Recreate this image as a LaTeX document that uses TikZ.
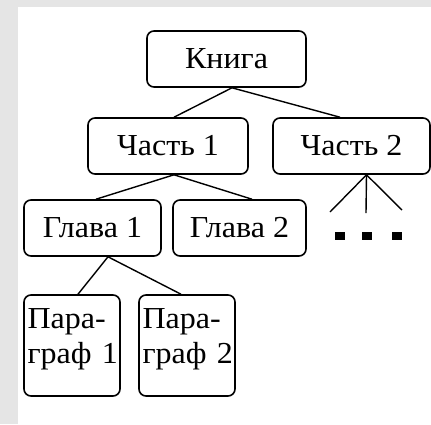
\documentclass[tikz,border=0pt]{standalone}
\usepackage{fontspec}
\setmainfont[FakeStretch=1.05]{Liberation Serif}
\begin{document}
\begin{tikzpicture}[x=1pt,y=-1pt,
  box/.style={draw, line width=1.6pt, rounded corners=7pt, inner sep=0pt,
    font=\fontsize{30.5}{35}\selectfont},
  parbox/.style={box, text width=89pt, align=left, minimum width=96pt, minimum height=101pt},
  link/.style={line width=1.4pt},
  dot/.style={fill=black, minimum width=10pt, minimum height=8pt, inner sep=0pt}]
\fill[black!10] (0,0) rectangle (431,424);
\fill[white] (18,7) rectangle (431,424);
\useasboundingbox (0,0) rectangle (431,424);

\node[box, minimum width=159pt, minimum height=56pt] (k) at (226.5,59) {Книга};
\node[box, minimum width=160pt, minimum height=56pt] (c1) at (168,146) {Часть 1};
\node[box, minimum width=157pt, minimum height=56pt] (c2) at (351.5,146) {Часть 2};
\node[box, minimum width=137pt, minimum height=56pt] (g1) at (92.5,228) {Глава 1};
\node[box, minimum width=133pt, minimum height=56pt] (g2) at (239.5,228) {Глава 2};
\node[parbox] (p1) at (72,345.5) {Пара-\\\mbox{граф 1}\rule[-18.5pt]{0pt}{1pt}};
\node[parbox] (p2) at (187,345.5) {Пара-\\\mbox{граф 2}\rule[-18.5pt]{0pt}{1pt}};

\node[dot] (d1) at (340,236) {};
\node[dot] (d2) at (367,236) {};
\node[dot] (d3) at (397,236) {};

\coordinate (e1) at (330,212);
\coordinate (e2) at (366,213);
\coordinate (e3) at (402,210);

\draw[link] ([xshift=5.5]k.south) -- ([xshift=6]c1.north);
\draw[link] ([xshift=5.5]k.south) -- ([xshift=-11.5]c2.north);
\draw[link] ([xshift=6]c1.south) -- ([xshift=3.5]g1.north);
\draw[link] ([xshift=6]c1.south) -- ([xshift=12.5]g2.north);
\draw[link] ([xshift=15]c2.south) -- (e1);
\draw[link] ([xshift=15]c2.south) -- (e2);
\draw[link] ([xshift=15]c2.south) -- (e3);
\draw[link] ([xshift=15.5]g1.south) -- ([xshift=6]p1.north);
\draw[link] ([xshift=15.5]g1.south) -- ([xshift=-6]p2.north);
\end{tikzpicture}
\end{document}
